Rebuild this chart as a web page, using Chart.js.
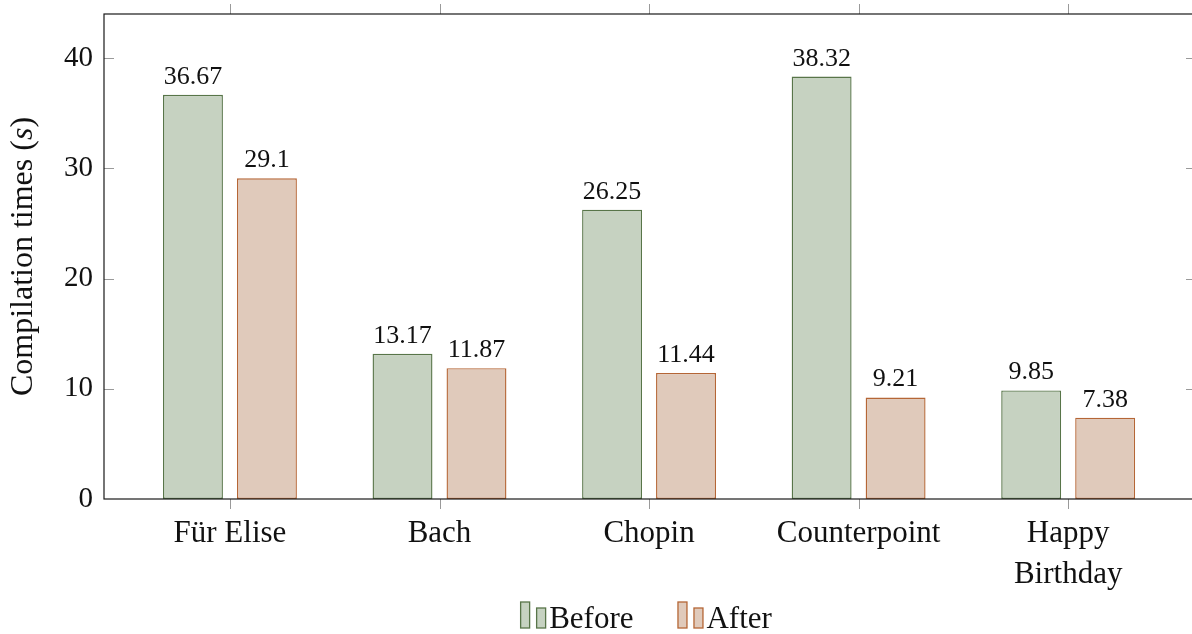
<!DOCTYPE html>
<html>
<head>
<meta charset="utf-8">
<script src="https://cdn.jsdelivr.net/npm/chart.js@4.4.1/dist/chart.umd.min.js"></script>
<style>
  html, body { margin: 0; padding: 0; background: #fff; overflow: hidden; }
  #wrap { width: 1200px; height: 634px; }
</style>
</head>
<body>
<div id="wrap"><canvas id="c" width="1200" height="634"></canvas></div>
<script>
// ---- data ----
const categories = ['Für Elise', 'Bach', 'Chopin', 'Counterpoint', 'Happy Birthday'];
const categoryLines = [['Für Elise'], ['Bach'], ['Chopin'], ['Counterpoint'], ['Happy', 'Birthday']];
const beforeTimes = [36.67, 13.17, 26.25, 38.32, 9.85];
const afterTimes = [29.1, 11.87, 11.44, 9.21, 7.38];
const yTicks = [0, 10, 20, 30, 40];
const seriesNames = ['Before', 'After'];

const FONT = '"Liberation Serif", "DejaVu Serif", serif';
const GREEN_FILL = '#c6d2c1';
const GREEN_EDGE = '#587549';
const ORANGE_FILL = '#e0cabb';
const ORANGE_EDGE = '#b56636';

const frameLeft = 104, frameTop = 14, frameBottom = 499;

const framePlugin = {
  id: 'frame',
  afterDraw(chart) {
    const ctx = chart.ctx;
    const a = chart.chartArea;
    const xs = chart.scales.x, ys = chart.scales.y;
    ctx.save();
    ctx.strokeStyle = '#9a9a9a';
    ctx.lineWidth = 1;
    ctx.beginPath();
    yTicks.forEach(v => {
      if (v === 0) return;
      const py = Math.round(ys.getPixelForValue(v)) + 0.5;
      ctx.moveTo(a.left, py); ctx.lineTo(a.left + 10, py);
      ctx.moveTo(a.right - 10, py); ctx.lineTo(a.right, py);
    });
    categories.forEach((c, i) => {
      const px = Math.round(xs.getPixelForValue(i)) + 0.5;
      ctx.moveTo(px, a.top); ctx.lineTo(px, a.top - 10);
      ctx.moveTo(px, a.bottom); ctx.lineTo(px, a.bottom + 10);
    });
    ctx.stroke();
    ctx.strokeStyle = '#1a1a1a';
    ctx.lineWidth = 1.2;
    ctx.strokeRect(a.left, a.top, a.right - a.left, a.bottom - a.top);
    ctx.restore();
  }
};

const labelPlugin = {
  id: 'barLabels',
  afterDatasetsDraw(chart) {
    const ctx = chart.ctx;
    ctx.save();
    ctx.fillStyle = '#111';
    ctx.font = '26px ' + FONT;
    ctx.textAlign = 'center';
    ctx.textBaseline = 'alphabetic';
    chart.data.datasets.forEach((ds, di) => {
      const meta = chart.getDatasetMeta(di);
      meta.data.forEach((el, i) => {
        ctx.fillText(String(ds.data[i].y), el.x, el.y - 11);
      });
    });
    ctx.restore();
  }
};

const titleLegendPlugin = {
  id: 'titleLegend',
  afterDraw(chart) {
    const ctx = chart.ctx;
    const a = chart.chartArea;
    ctx.save();
    ctx.translate(24, (a.top + a.bottom) / 2);
    ctx.rotate(-Math.PI / 2);
    ctx.fillStyle = '#111';
    ctx.textBaseline = 'middle';
    const fN = '32px ' + FONT, fI = 'italic 32px ' + FONT;
    const parts = [['Compilation times (', fN], ['s', fI], [')', fN]];
    let total = 0;
    parts.forEach(p => { ctx.font = p[1]; total += ctx.measureText(p[0]).width; });
    let x = -total / 2;
    ctx.textAlign = 'left';
    parts.forEach(p => { ctx.font = p[1]; ctx.fillText(p[0], x, 0); x += ctx.measureText(p[0]).width; });
    ctx.restore();

    // legend
    ctx.save();
    ctx.font = '31px ' + FONT;
    ctx.textBaseline = 'alphabetic';
    ctx.textAlign = 'left';
    const items = chart.data.datasets.map(ds => ({ label: ds.label, fill: ds.backgroundColor, edge: ds.borderColor }));
    const imgW = 26, gapImgText = 3, gapItems = 44;
    const widths = items.map(it => imgW + gapImgText + ctx.measureText(it.label).width);
    const tw = widths.reduce((s, w) => s + w, 0) + gapItems * (items.length - 1);
    let lx = (a.left + a.right) / 2 - 4 - tw / 2;
    const base = 628;
    items.forEach((it, k) => {
      ctx.fillStyle = it.fill;
      ctx.strokeStyle = it.edge;
      ctx.lineWidth = 1.3;
      ctx.fillRect(lx + 0.5, base - 26, 9, 26);
      ctx.strokeRect(lx + 0.5, base - 26, 9, 26);
      ctx.fillRect(lx + 16.5, base - 20, 9, 20);
      ctx.strokeRect(lx + 16.5, base - 20, 9, 20);
      ctx.fillStyle = '#111';
      ctx.fillText(it.label, lx + imgW + gapImgText, base);
      lx += widths[k] + gapItems;
    });
    ctx.restore();
  }
};

new Chart(document.getElementById('c'), {
  type: 'bar',
  data: {
    datasets: [
      {
        label: seriesNames[0],
        data: categories.map((c, i) => ({ x: i, y: beforeTimes[i] })),
        backgroundColor: GREEN_FILL,
        borderColor: GREEN_EDGE,
        borderWidth: 1.4,
        borderSkipped: false
      },
      {
        label: seriesNames[1],
        data: categories.map((c, i) => ({ x: i, y: afterTimes[i] })),
        backgroundColor: ORANGE_FILL,
        borderColor: ORANGE_EDGE,
        borderWidth: 1.4,
        borderSkipped: false
      }
    ]
  },
  options: {
    responsive: false,
    animation: false,
    devicePixelRatio: 1,
    layout: { padding: { left: 0, right: 4, top: frameTop, bottom: 0 } },
    categoryPercentage: 0.706,
    barPercentage: 0.81,
    plugins: { legend: { display: false }, tooltip: { enabled: false } },
    scales: {
      x: {
        type: 'linear',
        offset: false,
        min: -0.601,
        max: 4.61,
        grid: { display: false, drawTicks: false },
        border: { display: false },
        afterBuildTicks: s => { s.ticks = categories.map((c, i) => ({ value: i })); },
        afterFit: s => { s.height = 634 - frameBottom; s.paddingLeft = 0; s.paddingRight = 0; },
        ticks: {
          autoSkip: false,
          maxRotation: 0,
          padding: 14,
          color: '#111',
          font: { family: FONT, size: 31, lineHeight: 1.32 },
          callback: v => categoryLines[v]
        }
      },
      y: {
        min: 0,
        max: 44,
        grid: { display: false, drawTicks: false },
        border: { display: false },
        afterBuildTicks: s => { s.ticks = yTicks.map(v => ({ value: v })); },
        afterFit: s => { s.width = frameLeft; s.paddingTop = 0; s.paddingBottom = 0; },
        ticks: {
          padding: 11,
          color: '#111',
          font: { family: FONT, size: 29 }
        }
      }
    }
  },
  plugins: [framePlugin, labelPlugin, titleLegendPlugin]
});
</script>
</body>
</html>
